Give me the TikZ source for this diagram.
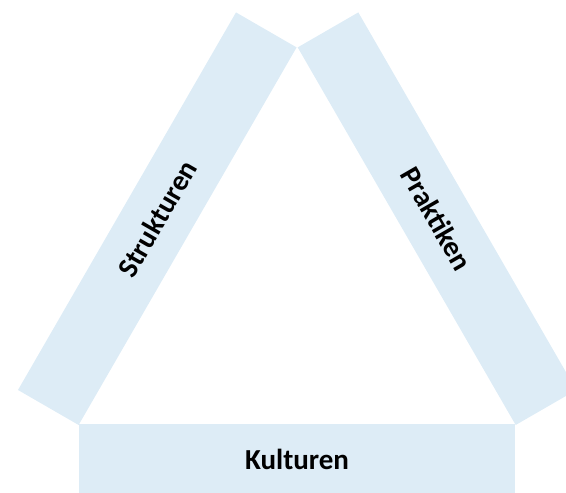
\documentclass[tikz,border=0pt]{standalone}
\usepackage{fontspec}
\setmainfont{Carlito}
\definecolor{barblue}{RGB}{221,236,246}
\begin{document}
\begin{tikzpicture}[x=1pt, y=1pt,
    bar/.style={fill=barblue, minimum width=436pt, minimum height=70pt,
      inner sep=0pt, font=\fontsize{29}{29}\selectfont\bfseries}]
      \clip (0,0) rectangle (566,493);

      \node[bar, rotate=60]  (strukturen) at (157.3,274.3) {Strukturen};
      \node[bar, rotate=-60] (praktiken)  at (437.0,274.3) {Praktiken};
      \node[bar]             (kulturen)   at (297.0,34.0)  {Kulturen};
    \end{tikzpicture}
\end{document}
